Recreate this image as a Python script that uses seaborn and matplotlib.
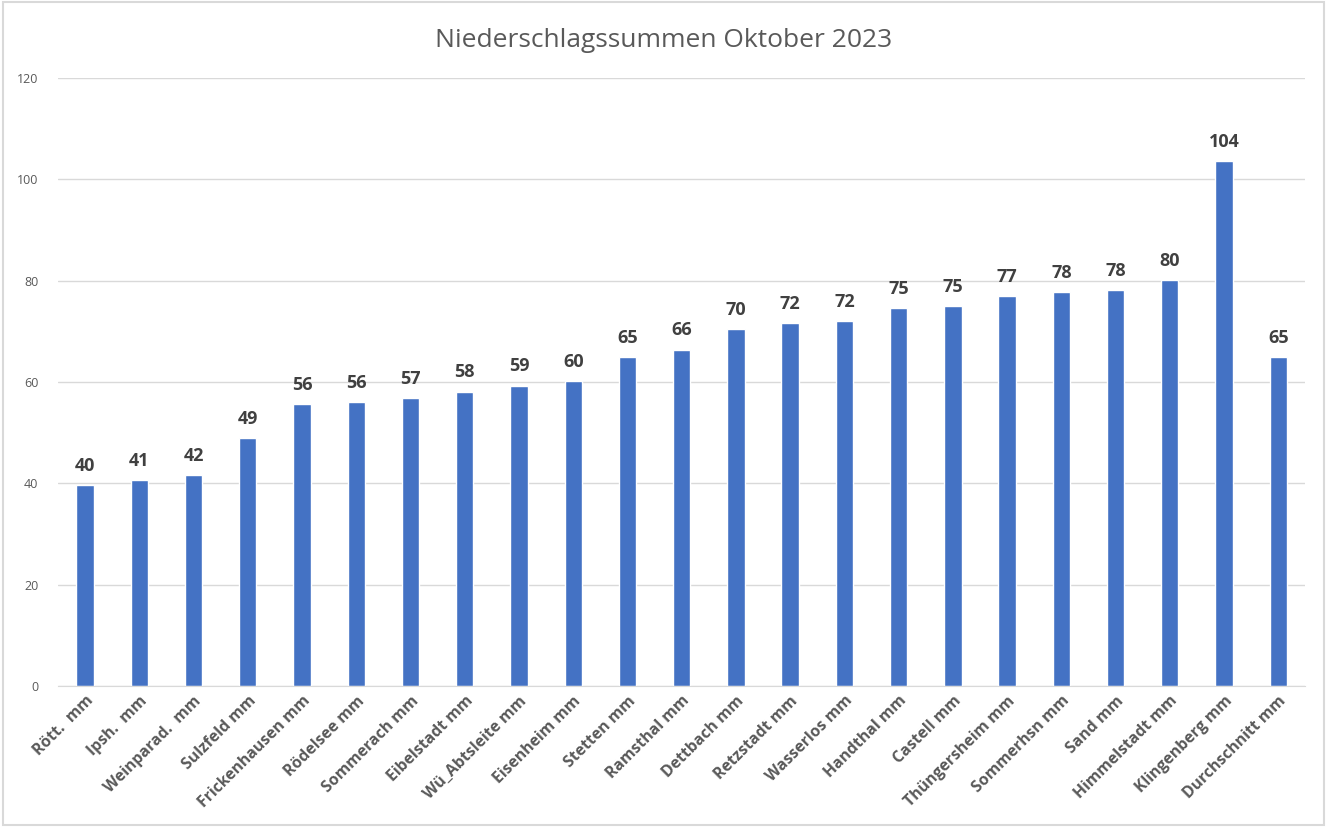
import pandas as pd
import matplotlib.pyplot as plt
import seaborn as sns
from matplotlib.patches import Rectangle

# Monthly precipitation per station (mm)
stations = ["Rött.  mm", "Ipsh.  mm", "Weinparad.  mm", "Sulzfeld mm", "Frickenhausen mm",
            "Rödelsee mm", "Sommerach mm", "Eibelstadt mm", "Wü_Abtsleite mm", "Eisenheim mm",
            "Stetten mm", "Ramsthal mm", "Dettbach mm", "Retzstadt mm", "Wasserlos mm",
            "Handthal mm", "Castell mm", "Thüngersheim mm", "Sommerhsn mm", "Sand mm",
            "Himmelstadt mm", "Klingenberg mm", "Durchschnitt mm"]
rain_mm = [39.6, 40.6, 41.6, 48.9, 55.6, 56.0, 56.8, 58.1, 59.3, 60.2,
           64.9, 66.4, 70.4, 71.6, 72.1, 74.6, 75.0, 77.0, 77.8, 78.1,
           80.1, 103.6, 64.9]

df = pd.DataFrame({"station": stations, "mm": rain_mm})

sns.set_style("white")
plt.rcParams['font.family'] = ['Open Sans', 'DejaVu Sans']

fig = plt.figure(figsize=(13.27, 8.27), dpi=100)
ax = fig.add_axes([0.0437, 0.1705, 0.94, 0.7352])

sns.barplot(data=df, x="station", y="mm", color="#4472C4", saturation=1,
            width=0.32, ax=ax)

# value labels above bars
for i, v in enumerate(rain_mm):
    ax.text(i, v + 2.0, f"{v:.0f}", ha="center", va="bottom",
            fontsize=13, fontweight="bold", color="#404040")

ax.set_ylim(0, 120)
ax.set_yticks(range(0, 121, 20))
ax.set_xlim(-0.5, len(stations) - 0.5)
ax.yaxis.grid(True, color="#D9D9D9", linewidth=1)
ax.set_axisbelow(True)
for s in ["top", "right", "left"]:
    ax.spines[s].set_visible(False)
ax.spines["bottom"].set_color("#D9D9D9")
ax.tick_params(axis="y", length=0, labelsize=9, labelcolor="#595959", pad=14)
ax.tick_params(axis="x", length=0, pad=5)
ax.set_xticks(range(len(stations)))
ax.set_xticklabels(stations, rotation=45, ha="right", rotation_mode="anchor",
                   fontsize=11.3, fontweight="bold", color="#595959")
ax.set_xlabel("")
ax.set_ylabel("")

fig.text(0.5, 0.951, "Niederschlagssummen Oktober 2023", ha="center", va="center",
         fontsize=19, color="#595959")

# light frame around the chart
fig.patches.append(Rectangle((0.002, 0.002), 0.996, 0.996, transform=fig.transFigure,
                             fill=False, edgecolor="#D9D9D9", linewidth=1.5))

plt.savefig("out.png", dpi=100)
